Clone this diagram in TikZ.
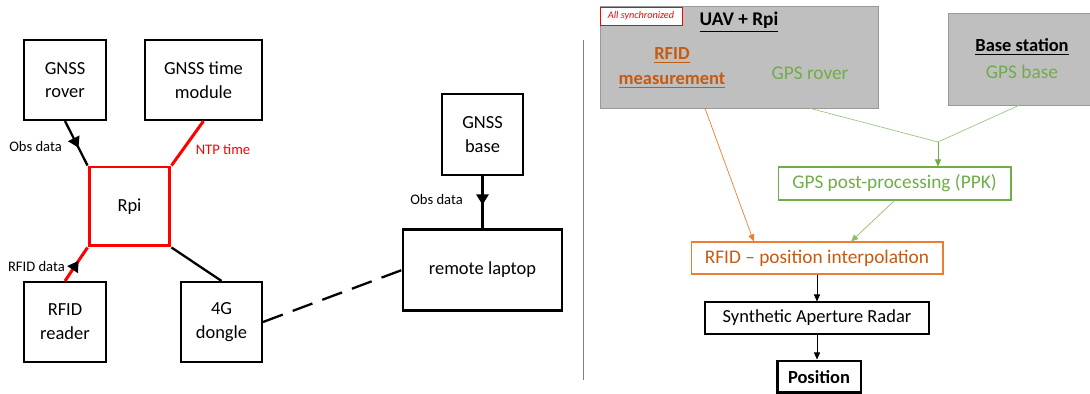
\documentclass[tikz,border=0pt]{standalone}
\usepackage{fontspec}
\setmainfont{Carlito}
\usetikzlibrary{calc,arrows.meta,decorations.markings}
\definecolor{uavgray}{HTML}{BFBFBF}
\definecolor{ppkgreen}{HTML}{70AD47}
\definecolor{rfidorange}{HTML}{ED7D31}
\definecolor{rfidtext}{HTML}{C55A11}
\begin{document}
\begin{tikzpicture}[
        x=0.02cm, y=-0.02cm,
        hwbox/.style={draw, line width=1.2pt, align=center, minimum width=1.64cm, minimum height=1.6cm,
            font=\fontsize{10.5}{13.5}\selectfont},
        rpibox/.style={hwbox, draw=red, line width=1.7pt, minimum width=1.62cm, minimum height=1.58cm},
        wire/.style={line width=1.3pt},
        redwire/.style={line width=1.7pt, red},
        midarrow/.style={postaction={decorate}, decoration={markings,
            mark=at position #1 with {\arrow[black]{Triangle[length=6pt,width=7pt]}}}},
        tiny/.style={font=\fontsize{8.3}{10}\selectfont},
        grayblock/.style={draw=gray!80, fill=uavgray, line width=0.4pt},
        stepbox/.style={draw, line width=0.6pt, minimum height=0.64cm, font=\fontsize{10.5}{13}\selectfont},
        flow/.style={line width=0.4pt, -{Triangle[length=4pt,width=3.5pt]}}
    ]
    \useasboundingbox (0,0) rectangle (1090,394);

    % hardware setup
    \node[hwbox] (rover) at (65,80) {GNSS\\rover};
    \node[hwbox, minimum width=2.34cm] (timemod) at (203.5,80) {GNSS time\\module};
    \node[rpibox] (rpi) at (129.5,206.5) {Rpi};
    \node[hwbox] (reader) at (65,322) {RFID\\reader};
    \node[hwbox, minimum width=1.62cm] (dongle) at (221.5,322) {4G\\dongle};
    \node[hwbox, minimum width=1.62cm, minimum height=1.62cm] (gbase) at (482.5,134.5) {GNSS\\base};
    \node[hwbox, minimum width=3.18cm, minimum height=1.62cm] (laptop) at (482.5,270) {remote laptop};

    \draw[wire, midarrow=0.6] (rover.south) -- (rpi.north west);
    \node[tiny, anchor=east] (obs1) at (68,146) {Obs data};
    \draw[redwire] (timemod.south) -- (rpi.north east);
    \node[tiny, text=red] (ntp) at (223,150) {NTP time};
    \draw[redwire, midarrow=0.6] (reader.north) -- (rpi.south west);
    \node[tiny, anchor=east] (rfiddata) at (71,266) {RFID data};
    \draw[wire] (rpi.south east) -- (dongle.north);
    \draw[wire, dash pattern=on 12pt off 6pt] (dongle.east) -- (laptop.west);
    \draw[wire, midarrow=0.55] (gbase.south) -- (laptop.north);
    \node[tiny, anchor=east] (obs2) at (469,199) {Obs data};

    \draw[gray, line width=0.4pt] (583,40) -- (583,380);

    % processing chain
    \node[grayblock, minimum width=5.56cm, minimum height=2.04cm] (uav) at (739,57) {};
    \node[draw=red, fill=white, line width=0.5pt, minimum width=1.64cm, minimum height=0.36cm,
        inner sep=0pt, font=\fontsize{5.8}{6}\selectfont\itshape, text=red] (sync) at (641,16) {All synchronized};
    \node[font=\fontsize{11}{13}\selectfont\bfseries] (uavtitle) at (739,22) {\underline{UAV + Rpi}};
    \node[font=\fontsize{10.5}{14}\selectfont\bfseries, text=rfidtext, align=center] (rfidmeas) at (672,68)
        {\underline{RFID}\\\underline{measurement}};
    \node[font=\fontsize{11}{13}\selectfont, text=ppkgreen] (rover2) at (810,73) {GPS rover};
    \node[grayblock, minimum width=2.84cm, minimum height=1.84cm] (station) at (1019,59) {};
    \node[font=\fontsize{10.5}{13}\selectfont\bfseries] (stattitle) at (1022,47) {\underline{Base station}};
    \node[font=\fontsize{11}{13}\selectfont, text=ppkgreen] (base2) at (1022,72) {GPS base};

    \node[stepbox, draw=ppkgreen, text=ppkgreen, minimum width=4.66cm, minimum height=0.66cm,
        font=\fontsize{11}{13}\selectfont] (ppk) at (894.5,183.5) {GPS post-processing (PPK)};
    \node[stepbox, draw=rfidorange, text=rfidtext, minimum width=5.04cm,
        font=\fontsize{11}{13}\selectfont] (interp) at (817,258) {RFID -- position interpolation};
    \node[stepbox, minimum width=4.48cm] (sar) at (817,318) {Synthetic Aperture Radar};
    \node[stepbox, line width=1.7pt, minimum width=1.68cm, font=\fontsize{10.5}{13}\selectfont\bfseries]
        (pos) at (819,377) {Position};

    \coordinate (join) at (938,142);
    \draw[ppkgreen!70, line width=0.4pt] ($(uav.south west)!.755!(uav.south east)$) -- (join);
    \draw[ppkgreen!70, line width=0.4pt] ($(station.south west)!.5!(station.south east)$) -- (join);
    \draw[flow, ppkgreen] (join) -- (join |- ppk.north);
    \draw[flow, rfidorange] ($(uav.south west)!.378!(uav.south east)$) -- ($(interp.north west)!.25!(interp.north east)$);
    \draw[flow, ppkgreen!80] (ppk.south) -- ($(interp.north west)!.635!(interp.north east)$);
    \draw[flow] (interp.south) -- (sar.north);
    \draw[flow] (sar.south) -- (sar.south |- pos.north);
\end{tikzpicture}
\end{document}
